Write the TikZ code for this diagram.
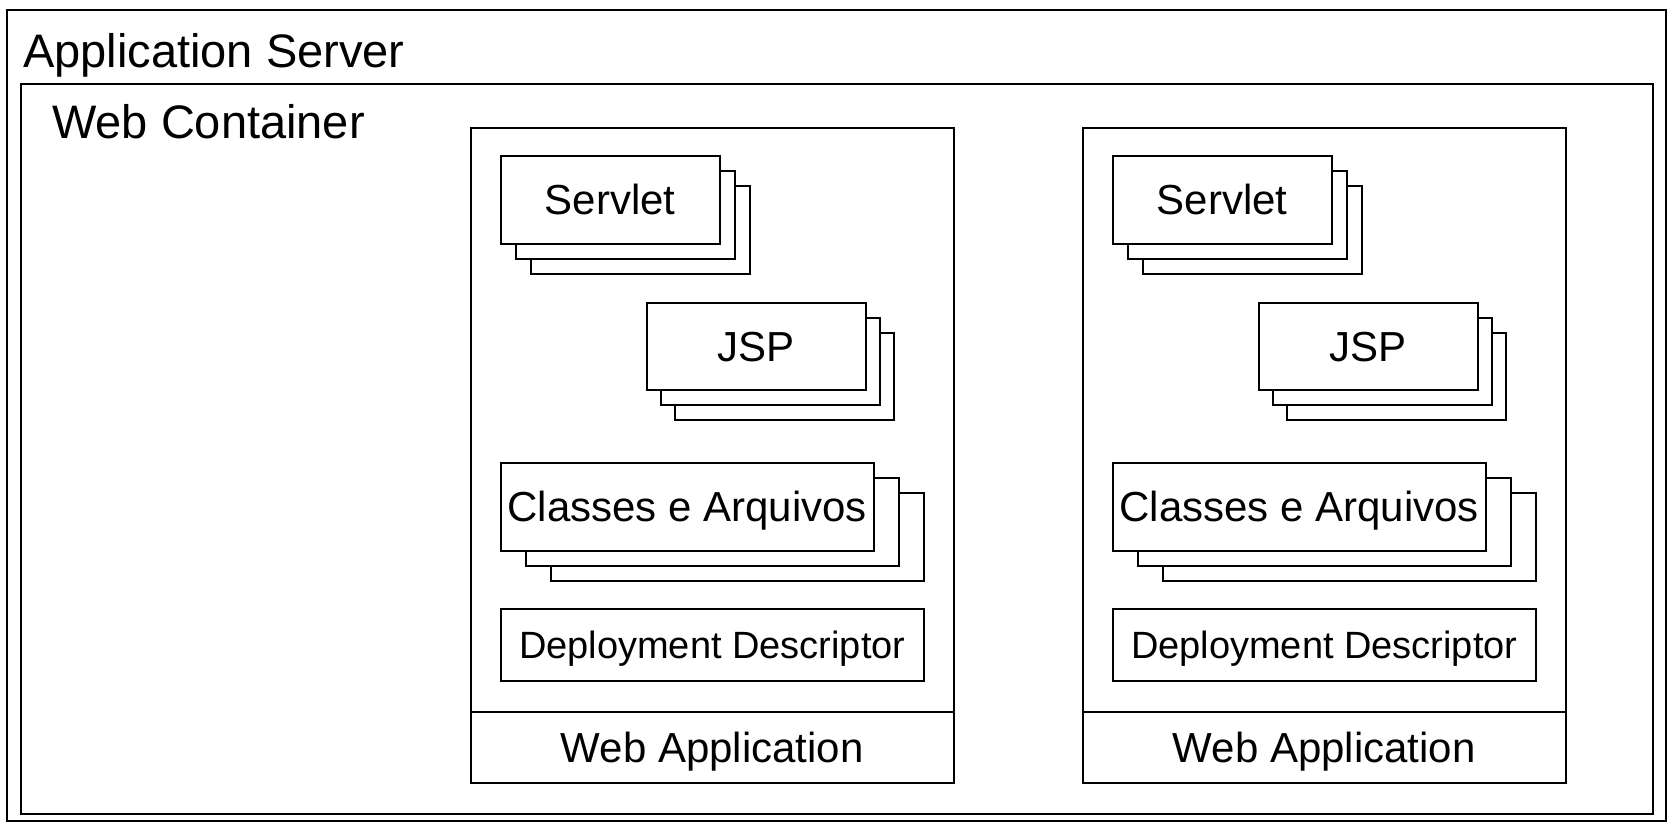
\documentclass[tikz,border=0pt]{standalone}
\usepackage{fontspec}
\setmainfont{Liberation Sans}
\newcommand\mystack[8]{%
  \node[box, minimum width=#4pt, minimum height=#5pt] (#1-3) at ({#2+2*#6}, {#3+2*#7}) {};
  \node[box, minimum width=#4pt, minimum height=#5pt] (#1-2) at ({#2+#6}, {#3+#7}) {};
  \node[box, lbl, minimum width=#4pt, minimum height=#5pt] (#1) at (#2, #3) {#8};
}
\begin{document}
\begin{tikzpicture}[x=1pt,y=-1pt,
  box/.style={draw, line width=1.5pt, fill=white, anchor=north west, inner sep=0pt, rectangle},
  lbl/.style={font=\fontsize{42}{50}\selectfont, text height=30pt, text depth=0pt},
  title/.style={font=\fontsize{47}{56}\selectfont, anchor=base west, inner sep=0pt},
]
\useasboundingbox (0,0) rectangle (1669,822);
% Application server
\node[box, minimum width=1659pt, minimum height=811pt] (appserver) at (6,9) {};
\node[title] (appservertitle) at (23,67) {Application Server};
% Web container
\node[box, minimum width=1632pt, minimum height=730pt] (webcontainer) at (20,83) {};
\node[title] (webcontainertitle) at (52,138) {Web Container};
% Web applications
\foreach \dx/\n in {0/a, 612/b}{
  \node[box, minimum width=483pt, minimum height=655pt] (webapp\n) at (470+\dx,127) {};
  \node[box, lbl, minimum width=483pt, minimum height=71pt] (webapplabel\n) at (470+\dx,711) {Web Application};
  \mystack{servlet\n}{500+\dx}{155}{219}{88}{15}{15}{Servlet}
  \mystack{jsp\n}{646+\dx}{302}{219}{87}{14}{15}{JSP}
  \mystack{classes\n}{500+\dx}{462}{373}{88}{25}{15}{Classes e Arquivos}
  \node[box, lbl, font=\fontsize{38}{46}\selectfont, text height=27pt, minimum width=423pt, minimum height=72pt] (dd\n) at (500+\dx,608) {Deployment Descriptor};
}
\end{tikzpicture}
\end{document}
